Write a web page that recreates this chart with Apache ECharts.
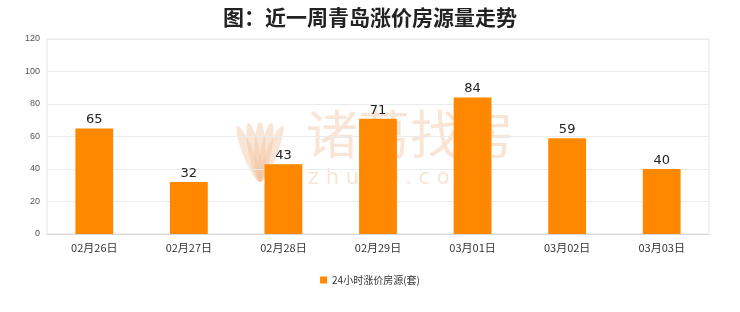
<!DOCTYPE html>
<html>
<head>
<meta charset="utf-8">
<script src="https://cdn.jsdelivr.net/npm/echarts@6/dist/echarts.min.js"></script>
<style>
html,body{margin:0;padding:0;background:#fff;}
#chart{width:740px;height:312px;}
</style>
</head>
<body>
<div id="chart"></div>
<script>
// Daily count of listings with raised prices over the last week
const categories = ['02月26日', '02月27日', '02月28日', '02月29日', '03月01日', '03月02日', '03月03日'];
const priceRiseCounts = [65, 32, 43, 71, 84, 59, 40];
const seriesName = '24小时涨价房源(套)';
const chartTitle = '图：近一周青岛涨价房源量走势';

const wmColor = 'rgba(240,190,150,0.40)';
// faint brand mark: petal fan plus wordmark
const petals = [-22, -11, 0, 11, 22].map(function (deg) {
  return {
    type: 'ellipse', z: 0,
    shape: { cx: 0, cy: -30, rx: 5.5, ry: 30 },
    x: 260, y: 182, rotation: -deg * Math.PI / 180,
    style: { fill: wmColor }
  };
});

const chart = echarts.init(document.getElementById('chart'));
chart.setOption({
  animation: false,
  backgroundColor: '#fff',
  title: {
    text: chartTitle,
    left: 'center',
    top: 2,
    textStyle: { fontSize: 21, fontWeight: 'bold', color: '#222', fontFamily: 'Noto Sans CJK SC' }
  },
  graphic: petals.concat([
    {
      type: 'text', left: 306, top: 108, z: 0,
      style: { text: '诸葛找房', fontSize: 52, fill: wmColor, fontFamily: 'Noto Sans CJK SC' }
    },
    {
      type: 'text', left: 308, top: 168, z: 0,
      style: { text: 'z h u g e . c o m', fontSize: 21, fill: wmColor, fontFamily: 'DejaVu Sans' }
    }
  ]),
  legend: {
    bottom: 22,
    left: 'center',
    itemWidth: 7,
    itemHeight: 7,
    icon: 'rect',
    textStyle: { fontSize: 10, color: '#333', fontFamily: 'Noto Sans CJK SC' },
    data: [seriesName]
  },
  grid: { left: 47, right: 31, top: 39, bottom: 78, show: true, borderColor: '#e3e3e3', borderWidth: 1 },
  xAxis: {
    type: 'category',
    data: categories,
    axisLine: { lineStyle: { color: '#d8d8d8' } },
    axisTick: { show: false },
    axisLabel: { fontSize: 11, color: '#333', margin: 8, fontFamily: 'Noto Sans CJK SC' }
  },
  yAxis: {
    type: 'value',
    min: 0,
    max: 120,
    interval: 20,
    axisLine: { show: false },
    axisTick: { show: false },
    axisLabel: { fontSize: 9, color: '#555', margin: 7 },
    splitLine: { lineStyle: { color: '#ebebeb' } }
  },
  series: [{
    name: seriesName,
    type: 'bar',
    data: priceRiseCounts,
    barWidth: '40%',
    z: 3,
    itemStyle: { color: '#ff8800' },
    label: { show: true, position: 'top', fontSize: 13, color: '#222', distance: 2, fontFamily: 'DejaVu Sans' }
  }]
});
</script>
</body>
</html>
